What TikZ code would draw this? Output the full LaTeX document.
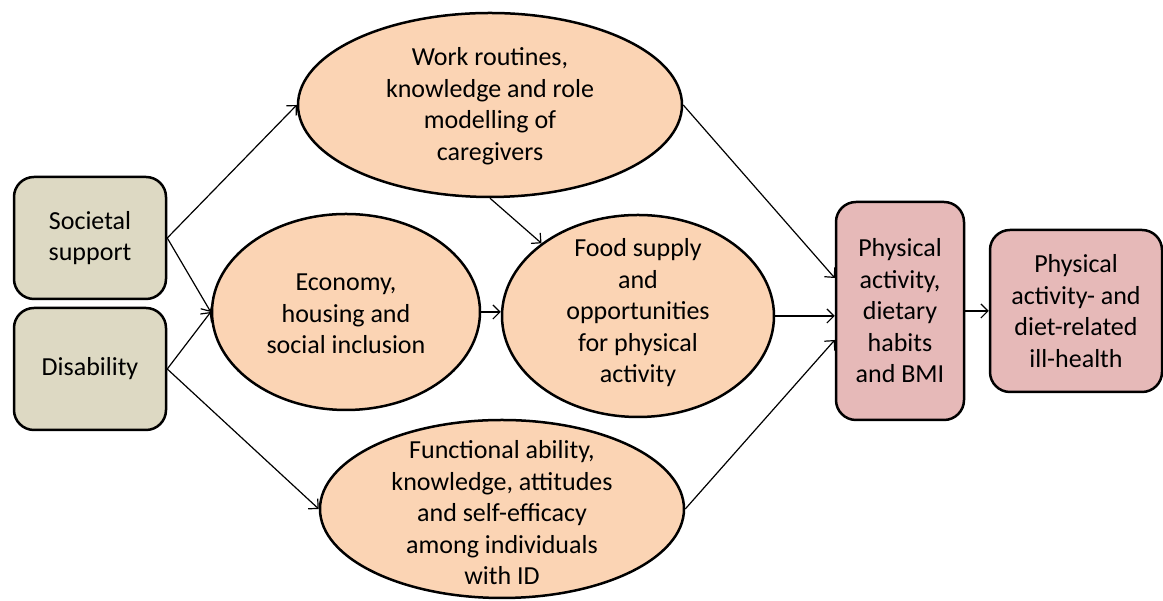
\documentclass[tikz,border=0pt]{standalone}
\usepackage{fontspec}
\setmainfont{Carlito}
\usetikzlibrary{shapes.geometric,arrows.meta}
\definecolor{tanbox}{HTML}{DDD9C3}
\definecolor{peach}{HTML}{FBD4B4}
\definecolor{rosebox}{HTML}{E6B9B8}
\tikzset{
  tbox/.style={draw=black, line width=2.5pt, fill=tanbox, rounded corners=20pt, inner sep=0pt},
  rbox/.style={draw=black, line width=2.5pt, fill=rosebox, rounded corners=20pt, inner sep=0pt, align=center},
  ell/.style={draw=black, line width=2.5pt, fill=peach, ellipse, inner sep=0pt},
  txt/.style={align=center, inner sep=0pt},
  conn/.style={line width=1.2pt, -{Straight Barb[length=7pt,width=14pt,line width=1.2pt]}}
}
\begin{document}
\begin{tikzpicture}[x=1pt,y=1pt,font=\fontsize{26}{31.5}\selectfont]
\useasboundingbox (0,0) rectangle (1163,601);
% boxes
\node[tbox, minimum width=152pt, minimum height=122pt, align=center] (soc) at (90,363) {Societal\\support};
\node[tbox, minimum width=152pt, minimum height=122pt, align=center] (dis) at (90,232) {Disability};
% ellipses
\node[ell, minimum width=384pt, minimum height=184pt] (top) at (490,496) {};
\node[txt] (topt) at (490,495) {Work routines,\\knowledge and role\\modelling of\\caregivers};
\node[ell, minimum width=268pt, minimum height=196pt] (econ) at (346,289) {};
\node[txt] (econt) at (346,287) {Economy,\\housing and\\social inclusion};
\node[ell, minimum width=272pt, minimum height=202pt] (food) at (638,285) {};
\node[txt] (foodt) at (638,288) {Food supply\\and\\opportunities\\for physical\\activity};
\node[ell, minimum width=364pt, minimum height=178pt] (bot) at (502,92) {};
\node[txt] (bott) at (502,88) {Functional ability,\\knowledge, attitudes\\and self-efficacy\\among individuals\\with ID};
% outcome boxes
\node[rbox, minimum width=128pt, minimum height=218pt] (pa) at (900,290) {Physical\\activity,\\dietary\\habits\\and BMI};
\node[rbox, minimum width=172pt, minimum height=162pt] (ill) at (1076,290) {Physical\\activity- and\\diet-related\\ill-health};
% connectors
\draw[conn] (soc.east) -- (top.west);
\draw[conn] (soc.east) -- (econ.west);
\draw[conn] (dis.east) -- (econ.west);
\draw[conn] (dis.east) -- (bot.west);
\draw[conn] (top.south) -- (food.143);
\draw[conn] (econ.east) -- (econ.east -| food.west);
\draw[conn] (top.east) -- ([yshift=33pt]pa.west);
\draw[conn] (food.east) -- (food.east -| pa.west);
\draw[conn] (bot.east) -- ([yshift=-29pt]pa.west);
\draw[conn] (pa.east) -- (ill.west);
\end{tikzpicture}
\end{document}
